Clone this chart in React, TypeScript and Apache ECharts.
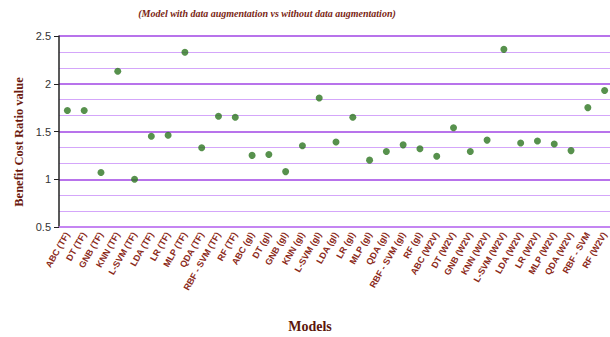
import React, { useEffect, useRef } from "react";
import * as echarts from "echarts";

const models = ["ABC", "DT", "GNB", "KNN", "L-SVM", "LDA", "LR", "MLP", "QDA", "RBF - SVM", "RF"];
const categories: string[] = [
  ...models.map((m) => `${m} (TF)`),
  ...models.map((m) => `${m} (gl)`),
  ...models.map((m) => (m === "RBF - SVM" ? "RBF - SVM" : `${m} (W2V)`)),
];

const tfValues = [1.72, 1.72, 1.07, 2.13, 1.0, 1.45, 1.46, 2.33, 1.33, 1.66, 1.65];
const glValues = [1.25, 1.26, 1.08, 1.35, 1.85, 1.39, 1.65, 1.2, 1.29, 1.36, 1.32];
const w2vValues = [1.24, 1.54, 1.29, 1.41, 2.36, 1.38, 1.4, 1.37, 1.3, 1.75, 1.93];
const values = [...tfValues, ...glValues, ...w2vValues];

const titleText = "(Model with data augmentation vs without data augmentation)";
const yAxisTitle = "Benefit Cost Ratio value";
const xAxisTitle = "Models";

export default function App() {
  const ref = useRef<HTMLDivElement>(null);
  useEffect(() => {
    if (!ref.current) return;
    const chart = echarts.init(ref.current, null, { renderer: "svg" });
    chart.setOption({
      animation: false,
      backgroundColor: "#ffffff",
      grid: { left: 59, top: 36, bottom: 110, width: 554, containLabel: false, outerBoundsMode: "none" },
      graphic: [
        {
          type: "text",
          x: 267,
          y: 13,
          style: {
            text: titleText,
            align: "center",
            verticalAlign: "middle",
            font: "italic bold 10px 'Liberation Serif', serif",
            fill: "#7a1f14",
          },
        },
        {
          type: "text",
          x: 310,
          y: 326,
          style: {
            text: xAxisTitle,
            align: "center",
            verticalAlign: "middle",
            font: "bold 14px 'Liberation Serif', serif",
            fill: "#5c160c",
          },
        },
        {
          type: "text",
          x: 19,
          y: 142,
          rotation: Math.PI / 2,
          style: {
            text: yAxisTitle,
            align: "center",
            verticalAlign: "middle",
            font: "bold 12.5px 'Liberation Serif', serif",
            fill: "#6b1a0e",
          },
        },
      ],
      xAxis: {
        type: "category",
        data: categories,
        boundaryGap: true,
        axisLine: { show: true, lineStyle: { color: "#c98cf5", width: 1.5 } },
        axisTick: { show: false },
        axisLabel: {
          interval: 0,
          rotate: 60,
          margin: 6,
          color: "#8b2a1a",
          fontSize: 9,
          fontWeight: "bold",
          fontFamily: "'Liberation Sans', Arial, sans-serif",
        },
        splitLine: { show: false },
      },
      yAxis: {
        type: "value",
        min: 0.5,
        max: 2.5,
        interval: 0.5,
        axisLine: { show: true, lineStyle: { color: "#222222", width: 1.5 } },
        axisTick: { show: true, length: 5, lineStyle: { color: "#222222" } },
        axisLabel: {
          color: "#333333",
          fontSize: 11,
          margin: 8,
          fontFamily: "'Liberation Sans', Arial, sans-serif",
          formatter: (v: number) => String(v),
        },
        splitLine: { show: true, lineStyle: { color: "#a045e4", width: 1.5 } },
        minorTick: { show: false, splitNumber: 3 },
        minorSplitLine: { show: true, lineStyle: { color: "#d4a6fa", width: 1.2 } },
      },
      series: [
        {
          type: "scatter",
          data: values,
          symbol: "circle",
          symbolSize: 7,
          itemStyle: { color: "#2d7520" },
        },
      ],
    });
    return () => chart.dispose();
  }, []);
  return (
    <div
      ref={ref}
      style={{ position: "fixed", left: 0, top: 0, width: 610, height: 337 }}
    />
  );
}
